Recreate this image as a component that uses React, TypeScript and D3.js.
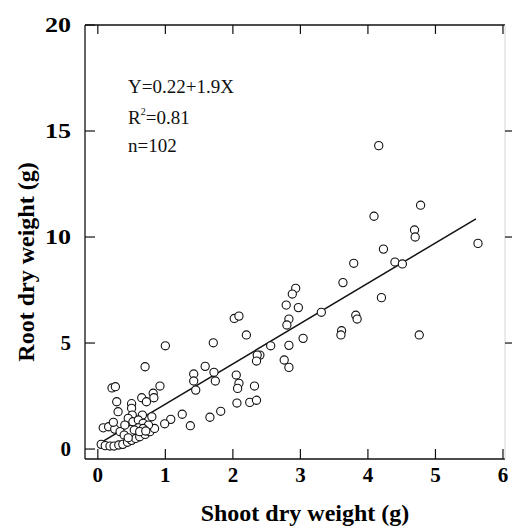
import React from "react";
import * as d3 from "d3";

const shootWeight: number[] = [
  4.16, 4.78, 4.09, 4.69, 4.70, 4.23, 3.79, 4.40, 4.51, 5.63,
  4.20, 4.76, 3.63, 2.93, 2.88, 2.79, 2.97, 2.83, 2.80, 3.31,
  3.82, 3.84, 3.61, 3.60, 2.56, 2.83, 3.04, 2.40, 2.76, 2.83,
  2.20, 1.71, 1.00, 1.59, 1.42, 1.42, 1.45, 1.72, 1.74, 2.05,
  2.09, 2.07, 2.32, 2.36, 2.35, 2.06, 2.25, 2.35, 1.82, 1.66,
  1.25, 1.08, 0.99, 1.37, 0.92, 2.02, 2.09, 0.70, 0.82, 0.83,
  0.65, 0.72, 0.21, 0.26, 0.28, 0.30, 0.50, 0.50, 0.51, 0.66,
  0.80, 0.05, 0.11, 0.18, 0.24, 0.31, 0.37, 0.44, 0.50, 0.56,
  0.62, 0.70, 0.77, 0.84, 0.08, 0.16, 0.25, 0.33, 0.39, 0.45,
  0.45, 0.52, 0.60, 0.67, 0.75, 0.60, 0.67, 0.54, 0.62, 0.71,
  0.40, 0.23,
];
const rootWeight: number[] = [
  14.31, 11.5, 10.98, 10.33, 10.0, 9.43, 8.76, 8.82, 8.73, 9.70,
  7.14, 5.38, 7.85, 7.58, 7.31, 6.79, 6.67, 6.13, 5.85, 6.45,
  6.31, 6.13, 5.58, 5.38, 4.87, 4.89, 5.22, 4.43, 4.20, 3.85,
  5.38, 5.01, 4.87, 3.90, 3.54, 3.21, 2.78, 3.62, 3.21, 3.49,
  3.10, 2.86, 2.97, 4.43, 4.15, 2.17, 2.20, 2.30, 1.78, 1.50,
  1.64, 1.40, 1.19, 1.10, 2.97, 6.16, 6.27, 3.88, 2.63, 2.42,
  2.42, 2.23, 2.88, 2.94, 2.23, 1.76, 2.14, 1.92, 1.60, 1.60,
  1.52, 0.22, 0.16, 0.14, 0.14, 0.19, 0.22, 0.32, 0.41, 0.50,
  0.58, 0.69, 0.82, 0.97, 1.00, 1.05, 0.94, 0.82, 0.66, 0.53,
  1.45, 1.29, 1.37, 1.21, 1.13, 1.00, 0.97, 0.90, 0.82, 0.85,
  1.13, 1.26,
];

const xTicks: number[] = [0, 1, 2, 3, 4, 5, 6];
const yTicks: number[] = [0, 5, 10, 15, 20];
const rightTicks: number[] = [5, 10, 15];
const intercept = 0.22;
const slope = 1.9;
const fitRange: number[] = [0.05, 5.6];
const annotation: string[] = ["Y=0.22+1.9X", "R", "n=102"];
const xTitle = "Shoot dry weight (g)";
const yTitle = "Root dry weight (g)";

export default function App() {
  const W = 512, H = 530;
  const left = 85, right = 505, top = 25, bottom = 459;
  const x = d3.scaleLinear().domain([-0.19, 6.03]).range([left, right]);
  const y = d3.scaleLinear().domain([-0.47, 20]).range([bottom, top]);
  const pts = shootWeight.map((v, i) => [v, rootWeight[i]] as [number, number]);
  const line = d3.line<number>().x((d) => x(d)).y((d) => y(intercept + slope * d));
  const serif = "'Liberation Serif', 'Times New Roman', serif";

  return (
    <svg width={W} height={H} style={{ position: "absolute", left: 0, top: 0, background: "#fff" }} fontFamily={serif}>
      <rect x={0} y={0} width={W} height={H} fill="#fff" />
      {/* frame */}
      <line x1={left} x2={right} y1={top} y2={top} stroke="#111" strokeWidth={1.3} />
      <line x1={left} x2={right} y1={bottom} y2={bottom} stroke="#111" strokeWidth={1.3} />
      <line x1={left} x2={left} y1={top} y2={bottom} stroke="#111" strokeWidth={1.3} />
      <line x1={right} x2={right} y1={top} y2={bottom} stroke="#ccc" strokeWidth={0.8} />
      {/* x ticks */}
      {xTicks.map((t) => (
        <g key={"xt" + t}>
          <line x1={x(t)} x2={x(t)} y1={bottom} y2={bottom - 10} stroke="#111" strokeWidth={1.2} />
          <line x1={x(t)} x2={x(t)} y1={top} y2={top + 9} stroke="#111" strokeWidth={1.2} />
          <text x={x(t)} y={482} textAnchor="middle" fontSize={21} fontWeight="bold" fill="#000">{t}</text>
        </g>
      ))}
      {/* y ticks */}
      {yTicks.map((t) => (
        <g key={"yt" + t}>
          <line x1={left} x2={left + 10} y1={y(t)} y2={y(t)} stroke="#111" strokeWidth={1.2} />
          <text x={71} y={y(t) + 7} textAnchor="end" fontSize={21} fontWeight="bold" fill="#000"
            {...(String(t).length > 1 ? { textLength: 26, lengthAdjust: "spacingAndGlyphs" } : {})}>{t}</text>
        </g>
      ))}
      {rightTicks.map((t) => (
        <line key={"rt" + t} x1={right} x2={right + 8} y1={y(t)} y2={y(t)} stroke="#111" strokeWidth={1.2} />
      ))}
      {/* regression line */}
      <path d={line(fitRange) || ""} fill="none" stroke="#111" strokeWidth={1.5} />
      {/* points */}
      {pts.map((p, i) => (
        <circle key={i} cx={x(p[0])} cy={y(p[1])} r={4.1} fill="#fff" stroke="#111" strokeWidth={1.1} />
      ))}
      {/* annotation */}
      <text x={128} y={93} fontSize={19} fill="#111">{annotation[0]}</text>
      <text x={128} y={124} fontSize={19} fill="#111">
        {annotation[1]}
        <tspan fontSize={10} dy={-9}>2</tspan>
        <tspan dy={9}>=0.81</tspan>
      </text>
      <text x={128} y={152} fontSize={19} fill="#111">{annotation[2]}</text>
      {/* titles */}
      <text x={305} y={521} textAnchor="middle" fontSize={24} fontWeight="bold" fill="#000">{xTitle}</text>
      <text transform="translate(34,262) rotate(-90)" textAnchor="middle" fontSize={24} fontWeight="bold" fill="#000">{yTitle}</text>
    </svg>
  );
}
